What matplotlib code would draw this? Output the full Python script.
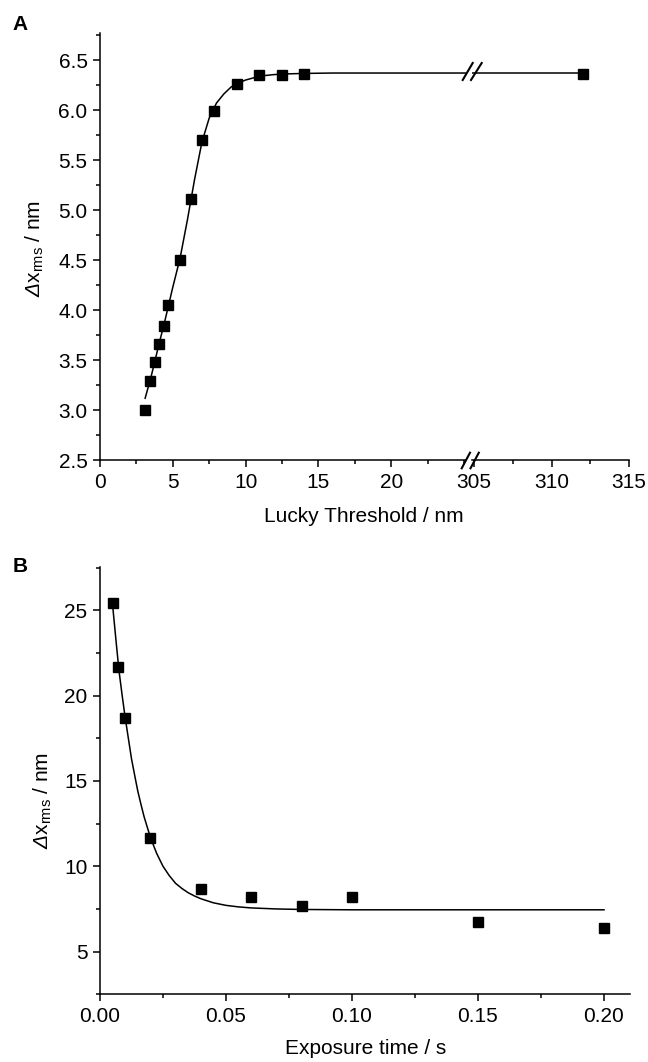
import matplotlib
matplotlib.use('Agg')
import matplotlib.pyplot as plt
from matplotlib.lines import Line2D
from matplotlib.ticker import MultipleLocator, FixedLocator

plt.rcParams['font.family'] = ['Liberation Sans', 'DejaVu Sans']
plt.rcParams['mathtext.fontset'] = 'custom'
plt.rcParams['mathtext.rm'] = 'Liberation Sans'
plt.rcParams['mathtext.it'] = 'Liberation Sans:italic'
plt.rcParams['mathtext.sf'] = 'Liberation Sans:italic'

# ---------------- Panel A data ----------------
thr_x = [3.1, 3.43, 3.75, 4.05, 4.38, 4.7, 5.5, 6.25, 7.0, 7.8, 9.4, 10.95, 12.5, 14.0, 312.0]
thr_y = [3.00, 3.29, 3.48, 3.66, 3.84, 4.05, 4.50, 5.11, 5.70, 5.99, 6.26, 6.35, 6.355, 6.363, 6.363]
fitA_x = [3.1, 3.5, 4.0, 4.5, 5.0, 5.5, 6.0, 6.5, 7.0, 7.5, 8.0, 8.5, 9.0, 9.5, 10.0,
          11.0, 12.0, 13.0, 14.0, 16.0, 20.0, 25.2, 305.1, 308.0, 312.0]
fitA_y = [3.12, 3.33, 3.63, 3.92, 4.23, 4.52, 4.90, 5.31, 5.68, 5.92, 6.07, 6.16, 6.23, 6.27, 6.30,
          6.34, 6.355, 6.362, 6.366, 6.37, 6.37, 6.37, 6.37, 6.37, 6.37]
A_left_ticks = [0, 5, 10, 15, 20]
A_right_ticks = [305, 310, 315]

# ---------------- Panel B data ----------------
exp_x = [0.005, 0.0073, 0.01, 0.02, 0.04, 0.06, 0.08, 0.10, 0.15, 0.20]
exp_y = [25.4, 21.65, 18.7, 11.66, 8.66, 8.2, 7.68, 8.2, 6.72, 6.37]
fitB_x = [0.005, 0.0063, 0.0075, 0.0088, 0.01, 0.0113, 0.0125, 0.0138, 0.015, 0.0163, 0.0175,
          0.0188, 0.02, 0.0213, 0.0225, 0.0238, 0.025, 0.0275, 0.03, 0.0325, 0.035, 0.0375,
          0.04, 0.045, 0.05, 0.055, 0.06, 0.07, 0.08, 0.10, 0.12, 0.15, 0.20]
fitB_y = [25.3, 23.3, 21.5, 20.0, 18.7, 17.45, 16.3, 15.3, 14.4, 13.6, 12.9,
          12.27, 11.7, 11.2, 10.75, 10.36, 10.0, 9.45, 9.0, 8.7, 8.45, 8.26,
          8.1, 7.86, 7.71, 7.62, 7.56, 7.5, 7.47, 7.45, 7.45, 7.45, 7.45]
B_xticks = [0.00, 0.05, 0.10, 0.15, 0.20]
B_yticks = [5, 10, 15, 20, 25]

W, H = 648, 1062
fig = plt.figure(figsize=(W / 100, H / 100), dpi=100)


def fx(x):
    return x / W


def fy(y):
    return 1 - y / H


FS = 15
LW = 1.1
YLABEL = r'$\mathsf{\Delta}$x$_{\mathrm{rms}}$ / nm'


def style(ax):
    for s in ['top', 'right']:
        ax.spines[s].set_visible(False)
    for s in ['left', 'bottom']:
        ax.spines[s].set_linewidth(LW)
    ax.tick_params(which='major', direction='out', length=5, width=LW, labelsize=FS, pad=4)
    ax.tick_params(which='minor', direction='out', length=2.6, width=LW)


# ---- Panel A (two axes with a break) ----
A_top, A_bot = 33.3, 460.3
axA1 = fig.add_axes([fx(100), fy(A_bot), fx(466 - 100), (A_bot - A_top) / H])
axA2 = fig.add_axes([fx(472), fy(A_bot), fx(629 - 472), (A_bot - A_top) / H])
for ax in (axA1, axA2):
    style(ax)
    ax.plot(fitA_x, fitA_y, color='black', lw=LW)
    ax.plot(thr_x, thr_y, 's', color='black', ms=6.8, clip_on=False)
    ax.set_ylim(2.5, 6.767)
axA1.set_xlim(0, (466 - 100) / 14.56)
axA2.set_xlim(315 - (629 - 472) / 15.5, 315)
axA1.xaxis.set_major_locator(FixedLocator(A_left_ticks))
axA1.xaxis.set_minor_locator(MultipleLocator(2.5))
axA2.xaxis.set_major_locator(FixedLocator(A_right_ticks))
axA2.xaxis.set_minor_locator(FixedLocator([307.5, 312.5]))
axA1.yaxis.set_major_locator(MultipleLocator(0.5))
axA1.yaxis.set_minor_locator(MultipleLocator(0.25))
axA1.yaxis.set_major_formatter(matplotlib.ticker.FormatStrFormatter('%.1f'))
axA2.spines['left'].set_visible(False)
axA2.tick_params(axis='y', which='both', left=False, labelleft=False)
axA2.patch.set_alpha(0)

# break marks


def slash(x0, y0, x1, y1):
    fig.add_artist(Line2D([fx(x0), fx(x1)], [fy(y0), fy(y1)], transform=fig.transFigure,
                          color='black', lw=1.5))


slash(461.7, 468.3, 470.0, 452.7)
slash(470.5, 468.3, 478.8, 452.7)
slash(462.7, 80.0, 472.7, 63.0)
slash(471.0, 80.0, 481.7, 63.0)

fig.text(fx(364), fy(517), 'Lucky Threshold / nm', ha='center', va='center', fontsize=FS)
fig.text(fx(35), fy(248), YLABEL, rotation=90, ha='center', va='center', fontsize=FS)
fig.text(fx(20), fy(25), 'A', ha='center', va='center', fontsize=FS, fontweight='bold')

# ---- Panel B ----
B_top, B_bot = 566.7, 994.3
axB = fig.add_axes([fx(100), fy(B_bot), fx(630 - 100), (B_bot - B_top) / H])
style(axB)
axB.plot(fitB_x, fitB_y, color='black', lw=LW)
axB.plot(exp_x, exp_y, 's', color='black', ms=6.8, clip_on=False)
axB.set_xlim(0, (630 - 100) / 2520)
axB.set_ylim(2.5, 27.55)
axB.xaxis.set_major_locator(FixedLocator(B_xticks))
axB.xaxis.set_minor_locator(MultipleLocator(0.025))
axB.xaxis.set_major_formatter(matplotlib.ticker.FormatStrFormatter('%.2f'))
axB.yaxis.set_major_locator(FixedLocator(B_yticks))
axB.yaxis.set_minor_locator(MultipleLocator(2.5))

fig.text(fx(366), fy(1048), 'Exposure time / s', ha='center', va='center', fontsize=FS)
fig.text(fx(43), fy(800), YLABEL, rotation=90, ha='center', va='center', fontsize=FS)
fig.text(fx(20), fy(567), 'B', ha='center', va='center', fontsize=FS, fontweight='bold')

fig.savefig('out.png', dpi=100)
